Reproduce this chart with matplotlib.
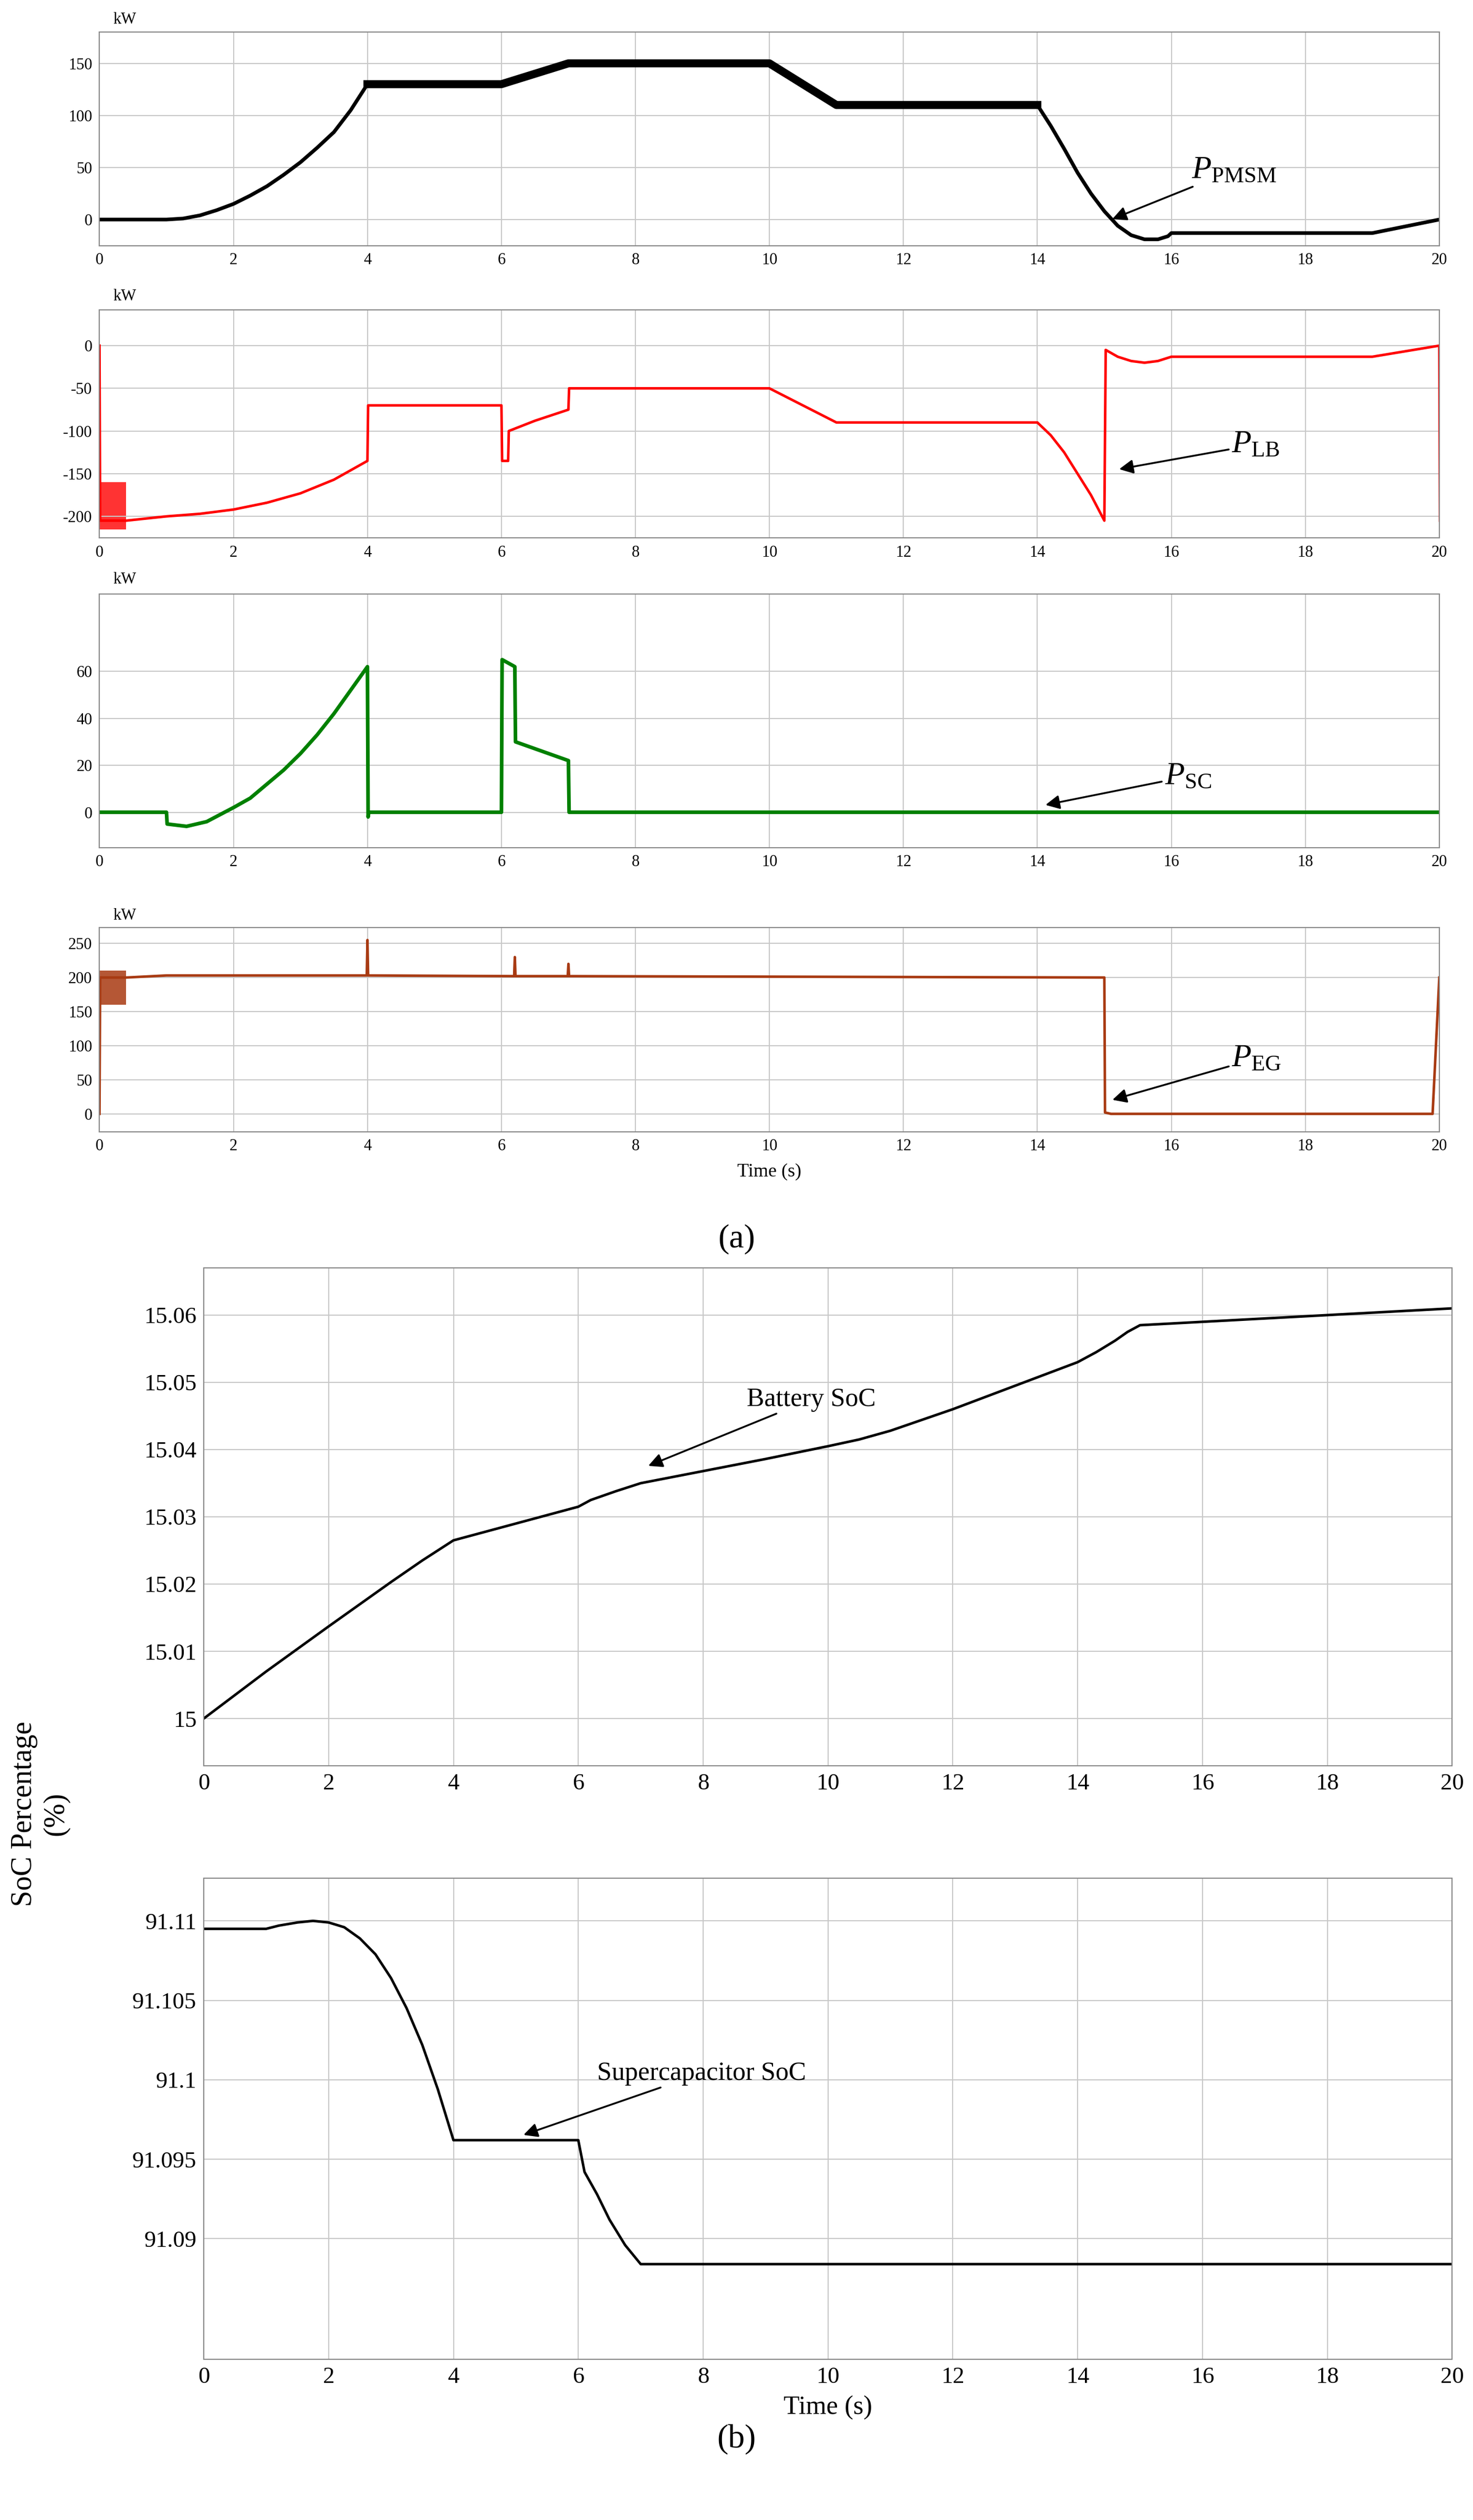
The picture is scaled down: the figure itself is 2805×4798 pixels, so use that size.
import numpy as np
import matplotlib
matplotlib.use("Agg")
import matplotlib.pyplot as plt

plt.rcParams['font.family'] = ['Liberation Serif', 'DejaVu Serif']
plt.rcParams['mathtext.fontset'] = 'custom'
plt.rcParams['mathtext.it'] = 'Liberation Serif:italic'
plt.rcParams['mathtext.rm'] = 'Liberation Serif'
plt.rcParams['axes.unicode_minus'] = False

# ---- data (key points) ----
pmsm_t = [0, 1, 1.25, 1.5, 1.75, 2, 2.25, 2.5, 2.75, 3, 3.25, 3.5, 3.75, 4, 6, 6.5, 7, 10, 11, 14,
          14.2, 14.4, 14.6, 14.8, 15, 15.2, 15.4, 15.6, 15.8, 15.95, 16, 19, 20]
pmsm_p = [0, 0, 1, 4, 9, 15, 23, 32, 43, 55, 69, 84, 105, 130, 130, 140, 150, 150, 110, 110,
          90, 68, 45, 25, 8, -6, -15, -19, -19, -16, -13, -13, 0]

lb_t = [0, 0.01, 0.4, 1, 1.5, 2, 2.5, 3, 3.5, 4, 4.01, 6, 6.01, 6.1, 6.11, 6.5, 7, 7.01, 10, 11, 14,
        14.2, 14.4, 14.6, 14.8, 15, 15.02, 15.2, 15.4, 15.6, 15.8, 16, 19, 20, 20.01]
lb_p = [0, -205, -205, -200, -197, -192, -184, -173, -157, -135, -70, -70, -135, -135, -100, -88, -75, -50,
        -50, -90, -90, -105, -125, -150, -175, -205, -5, -13, -18, -20, -18, -13, -13, 0, -205]
lb_noise_t = [0, 0.4]
lb_noise_lo = [-215, -215]
lb_noise_hi = [-160, -160]

sc_t = [0, 1, 1.01, 1.3, 1.6, 2, 2.25, 2.5, 2.75, 3, 3.25, 3.5, 3.75, 4, 4.01, 4.02, 6, 6.01, 6.2, 6.21, 7, 7.01, 20]
sc_p = [0, 0, -5, -6, -4, 2, 6, 12, 18, 25, 33, 42, 52, 62, -2, 0, 0, 65, 62, 30, 22, 0, 0]

eg_t = [0, 0.01, 0.4, 1, 3.99, 4, 4.01, 6.19, 6.2, 6.21, 6.99, 7, 7.01, 15, 15.01, 15.1, 19.9, 20]
eg_p = [0, 200, 200, 203, 203, 255, 203, 202, 230, 202, 202, 220, 202, 200, 2, 0, 0, 200]
eg_noise_t = [0, 0.4]
eg_noise_lo = [160, 160]
eg_noise_hi = [210, 210]

bat_t = [0, 1, 2, 3, 3.5, 4, 5, 6, 6.2, 6.6, 7, 8, 9, 10, 10.5, 11, 12, 13, 14, 14.3, 14.6, 14.8, 15, 16, 20]
bat_soc = [15, 15.007, 15.0137, 15.0203, 15.0235, 15.0265, 15.029, 15.0315, 15.0325, 15.0338, 15.035,
           15.0368, 15.0386, 15.0405, 15.0415, 15.0428, 15.046, 15.0495, 15.053, 15.0545, 15.0562, 15.0575,
           15.0585, 15.059, 15.061]

sc_soc_t = [0, 1, 1.2, 1.5, 1.75, 2, 2.25, 2.5, 2.75, 3, 3.25, 3.5, 3.75, 4, 6, 6.1, 6.3, 6.5, 6.75, 7, 20]
sc_soc = [91.1095, 91.1095, 91.1097, 91.1099, 91.11, 91.1099, 91.1096, 91.1089, 91.1079, 91.1064,
          91.1045, 91.1022, 91.0994, 91.0962, 91.0962, 91.0942, 91.0928, 91.0912, 91.0896, 91.0884, 91.0884]

H = 1570.0
def ax_at(fig, l, r, top, bot):
    return fig.add_axes([l/918, 1-bot/H, (r-l)/918, (bot-top)/H])

fig = plt.figure(figsize=(28.05, 47.98), dpi=100)
tfs = 22
gridc = '#c8c8c8'

def style(ax, xt, fs):
    ax.set_xlim(0, 20)
    ax.set_xticks(xt)
    ax.grid(True, color=gridc, linewidth=1.5)
    ax.tick_params(labelsize=fs, length=0, pad=10)
    for s in ax.spines.values():
        s.set_color('#888888'); s.set_linewidth(1.5)

arrow = dict(arrowstyle='-|>', color='black', lw=2.5, mutation_scale=40)
afs = 44

ax1 = ax_at(fig, 62, 897, 20, 153)
ax1.plot(pmsm_t, pmsm_p, color='black', lw=5)
ax1.plot(pmsm_t[13:20], pmsm_p[13:20], color='black', lw=11)
ax1.set_ylim(-25, 180); ax1.set_yticks([0, 50, 100, 150])
style(ax1, range(0, 21, 2), tfs)
ax1.text(0.01, 1.04, 'kW', transform=ax1.transAxes, fontsize=tfs)
ax1.annotate(r'$P_{\mathrm{PMSM}}$', xy=(15.1, 0), xytext=(16.3, 40), fontsize=afs, arrowprops=arrow)

ax2 = ax_at(fig, 62, 897, 193, 335)
ax2.fill_between(lb_noise_t, lb_noise_lo, lb_noise_hi, color='red', lw=0, alpha=0.8)
ax2.plot(lb_t, lb_p, color='red', lw=3.5)
ax2.set_ylim(-225, 42); ax2.set_yticks([-200, -150, -100, -50, 0])
style(ax2, range(0, 21, 2), tfs)
ax2.text(0.01, 1.04, 'kW', transform=ax2.transAxes, fontsize=tfs)
ax2.annotate(r'$P_{\mathrm{LB}}$', xy=(15.2, -145), xytext=(16.9, -125), fontsize=afs, arrowprops=arrow)

ax3 = ax_at(fig, 62, 897, 370, 528)
ax3.plot(sc_t, sc_p, color='green', lw=5)
ax3.set_ylim(-15, 93); ax3.set_yticks([0, 20, 40, 60])
style(ax3, range(0, 21, 2), tfs)
ax3.text(0.01, 1.04, 'kW', transform=ax3.transAxes, fontsize=tfs)
ax3.annotate(r'$P_{\mathrm{SC}}$', xy=(14.1, 3), xytext=(15.9, 12), fontsize=afs, arrowprops=arrow)

ax4 = ax_at(fig, 62, 897, 578, 705)
brown = '#a83a12'
ax4.fill_between(eg_noise_t, eg_noise_lo, eg_noise_hi, color=brown, lw=0, alpha=0.85)
ax4.plot(eg_t, eg_p, color=brown, lw=3.5)
ax4.set_ylim(-26, 273); ax4.set_yticks([0, 50, 100, 150, 200, 250])
style(ax4, range(0, 21, 2), tfs)
ax4.text(0.01, 1.04, 'kW', transform=ax4.transAxes, fontsize=tfs)
ax4.annotate(r'$P_{\mathrm{EG}}$', xy=(15.1, 20), xytext=(16.9, 70), fontsize=afs, arrowprops=arrow)
ax4.set_xlabel('Time (s)', fontsize=26, labelpad=12)
fig.text(0.5, 1-772/H, '(a)', ha='center', va='center', fontsize=46)
fig.text(0.5, 1-772/H, ' a ', ha='center', va='center', fontsize=46, fontweight='bold', color='none')

bfs = 32
ax5 = ax_at(fig, 127, 905, 790, 1100)
ax5.plot(bat_t, bat_soc, color='black', lw=3.5)
ax5.set_ylim(14.993, 15.067)
ax5.set_yticks([15, 15.01, 15.02, 15.03, 15.04, 15.05, 15.06])
ax5.set_yticklabels(['15', '15.01', '15.02', '15.03', '15.04', '15.05', '15.06'])
style(ax5, range(0, 21, 2), bfs)
ax5.annotate('Battery SoC', xy=(7.1, 15.0375), xytext=(8.7, 15.0465), fontsize=36, arrowprops=arrow)

ax6 = ax_at(fig, 127, 905, 1170, 1470)
ax6.plot(sc_soc_t, sc_soc, color='black', lw=3.5)
ax6.set_ylim(91.0824, 91.1127)
ax6.set_yticks([91.09, 91.095, 91.1, 91.105, 91.11])
ax6.set_yticklabels(['91.09', '91.095', '91.1', '91.105', '91.11'])
style(ax6, range(0, 21, 2), bfs)
ax6.annotate('Supercapacitor SoC', xy=(5.1, 91.0965), xytext=(6.3, 91.1), fontsize=36, arrowprops=arrow)
ax6.set_xlabel('Time (s)', fontsize=36, labelpad=10)

fig.text(25/918, 1-1130/H, 'SoC Percentage\n(%)', rotation=90, ha='center', va='center', fontsize=40)
fig.text(0.5, 1-1520/H, '(b)', ha='center', va='center', fontsize=46)

fig.savefig('out.png', dpi=100)
